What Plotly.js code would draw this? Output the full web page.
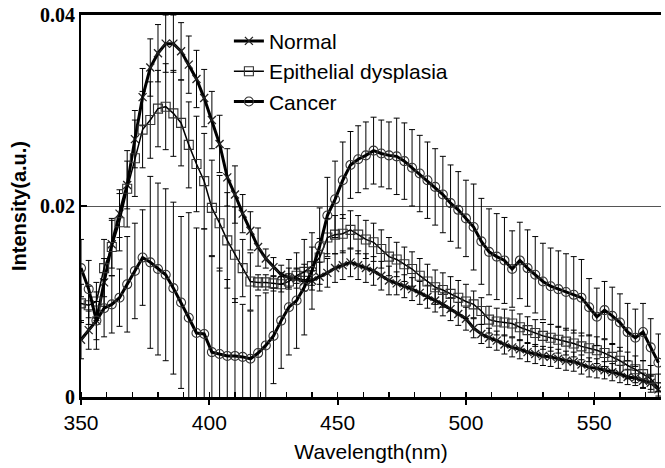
<!DOCTYPE html>
<html>
<head>
<meta charset="utf-8">
<script src="https://cdn.plot.ly/plotly-3.0.1.min.js"></script>
<style>html,body{margin:0;padding:0;background:#fff}#chart{width:665px;height:468px}</style>
</head>
<body>
<div id="chart"></div>
<script>
// Wavelength (nm), sampled every 3 nm
var wavelength = [350,353,356,359,362,365,368,371,374,377,380,383,386,389,392,395,398,401,404,407,410,413,416,419,422,425,428,431,434,437,440,443,446,449,452,455,458,461,464,467,470,473,476,479,482,485,488,491,494,497,500,503,506,509,512,515,518,521,524,527,530,533,536,539,542,545,548,551,554,557,560,563,566,569,572,575];

var normal = [0.0060,0.0070,0.0080,0.0120,0.0160,0.0192,0.0222,0.0270,0.0314,0.0345,0.0360,0.0370,0.0370,0.0362,0.0348,0.0333,0.0313,0.0290,0.0265,0.0230,0.0212,0.0192,0.0174,0.0157,0.0145,0.0136,0.0128,0.0125,0.0124,0.0121,0.0122,0.0126,0.0130,0.0135,0.0138,0.0141,0.0138,0.0135,0.0132,0.0127,0.0122,0.0119,0.0116,0.0113,0.0109,0.0105,0.0101,0.0097,0.0092,0.0087,0.0082,0.0072,0.0066,0.0062,0.0059,0.0055,0.0052,0.0050,0.0047,0.0045,0.0043,0.0042,0.0040,0.0038,0.0037,0.0034,0.0031,0.0030,0.0028,0.0026,0.0024,0.0021,0.0020,0.0017,0.0015,0.0008];
var normalErr = [0.002,0.002,0.002,0.0025,0.0025,0.0025,0.0025,0.003,0.003,0.003,0.003,0.003,0.003,0.003,0.003,0.003,0.003,0.003,0.003,0.003,0.003,0.002,0.002,0.002,0.001,0.001,0.001,0.001,0.001,0.001,0.001,0.0015,0.0015,0.0015,0.0015,0.0015,0.0015,0.0015,0.0015,0.0015,0.0015,0.0012,0.0012,0.0012,0.0012,0.0012,0.0012,0.0012,0.0012,0.0012,0.0012,0.001,0.001,0.001,0.001,0.001,0.001,0.001,0.001,0.001,0.001,0.001,0.001,0.001,0.001,0.001,0.001,0.001,0.0009,0.0009,0.0009,0.0008,0.0008,0.0008,0.0007,0.0007];

var dysplasia = [0.0098,0.0096,0.0100,0.0135,0.0157,0.0183,0.0218,0.0250,0.0280,0.0290,0.0302,0.0304,0.0297,0.0287,0.0264,0.0244,0.0226,0.0198,0.0182,0.0164,0.0149,0.0135,0.0121,0.0120,0.0120,0.0119,0.0118,0.0121,0.0127,0.0131,0.0137,0.0146,0.0167,0.0170,0.0171,0.0175,0.0170,0.0165,0.0162,0.0155,0.0147,0.0144,0.0139,0.0134,0.0127,0.0121,0.0115,0.0112,0.0108,0.0104,0.0100,0.0097,0.0090,0.0081,0.0079,0.0078,0.0077,0.0073,0.0070,0.0067,0.0064,0.0062,0.0060,0.0058,0.0056,0.0053,0.0051,0.0049,0.0046,0.0042,0.0038,0.0033,0.0029,0.0024,0.0019,0.0010];
var dysplasiaErr = [0.002,0.002,0.002,0.003,0.003,0.003,0.004,0.004,0.004,0.004,0.004,0.0045,0.0045,0.0045,0.0045,0.005,0.005,0.005,0.005,0.005,0.005,0.003,0.003,0.0008,0.0008,0.0008,0.0008,0.0008,0.0008,0.0008,0.002,0.002,0.002,0.002,0.002,0.002,0.002,0.002,0.002,0.002,0.002,0.0018,0.0018,0.0018,0.0018,0.0018,0.0018,0.0018,0.0018,0.0018,0.0018,0.0014,0.0014,0.0014,0.0014,0.0014,0.0014,0.0014,0.0014,0.0014,0.0014,0.0014,0.0014,0.0014,0.0014,0.0014,0.0014,0.0014,0.0014,0.0014,0.0014,0.0014,0.0014,0.0014,0.0014,0.0014];

var cancer = [0.0135,0.0113,0.0080,0.0093,0.0097,0.0104,0.0118,0.0132,0.0146,0.0141,0.0134,0.0128,0.0114,0.0099,0.0083,0.0067,0.0066,0.0047,0.0045,0.0043,0.0043,0.0042,0.0040,0.0046,0.0054,0.0064,0.0080,0.0094,0.0101,0.0115,0.0132,0.0158,0.0190,0.0207,0.0227,0.0243,0.0249,0.0253,0.0258,0.0255,0.0253,0.0252,0.0247,0.0240,0.0234,0.0227,0.0220,0.0212,0.0203,0.0196,0.0187,0.0178,0.0163,0.0152,0.0147,0.0143,0.0134,0.0143,0.0135,0.0128,0.0121,0.0116,0.0113,0.0110,0.0107,0.0104,0.0094,0.0084,0.0091,0.0085,0.0078,0.0068,0.0062,0.0068,0.0052,0.0036];
var cancerErr = [0.003,0.003,0.003,0.003,0.003,0.003,0.005,0.005,0.005,0.009,0.009,0.009,0.009,0.009,0.011,0.011,0.011,0.010,0.009,0.008,0.006,0.0055,0.005,0.006,0.0055,0.005,0.005,0.005,0.005,0.005,0.004,0.004,0.004,0.004,0.004,0.0035,0.0035,0.0035,0.0035,0.0035,0.0035,0.004,0.004,0.004,0.004,0.004,0.004,0.004,0.004,0.004,0.004,0.0045,0.0045,0.0045,0.0045,0.0045,0.004,0.004,0.004,0.004,0.004,0.004,0.004,0.004,0.004,0.004,0.003,0.003,0.003,0.003,0.003,0.003,0.003,0.003,0.003,0.003];

var seriesNames = ['Normal', 'Epithelial dysplasia', 'Cancer'];
var xTicks = [350, 400, 450, 500, 550];
var yTicks = [0, 0.02, 0.04];
var yTickText = ['0', '0.02', '0.04'];

function errBar(arr){
  return {type:'data', array:arr, visible:true, color:'#000', thickness:1, width:3};
}

var traces = [
  {x:wavelength, y:normal, name:seriesNames[0], type:'scatter', mode:'lines+markers',
   line:{color:'#000', width:3},
   marker:{symbol:'x-thin-open', size:8, color:'#222', line:{width:1.3, color:'#222'}},
   error_y:errBar(normalErr)},
  {x:wavelength, y:dysplasia, name:seriesNames[1], type:'scatter', mode:'lines+markers',
   line:{color:'#000', width:1.5},
   marker:{symbol:'square-open', size:9, color:'#333', line:{width:1.1, color:'#333'}},
   error_y:errBar(dysplasiaErr)},
  {x:wavelength, y:cancer, name:seriesNames[2], type:'scatter', mode:'lines+markers',
   line:{color:'#000', width:3},
   marker:{symbol:'circle-open', size:9, color:'#333', line:{width:1.1, color:'#333'}},
   error_y:errBar(cancerErr)}
];

var sans = 'Liberation Sans, Arial, sans-serif';
var layout = {
  width:665, height:468,
  margin:{l:81, r:4, t:15, b:71},
  paper_bgcolor:'#fff', plot_bgcolor:'#fff',
  showlegend:true,
  legend:{x:0.255, y:0.985, xanchor:'left', yanchor:'top', bgcolor:'rgba(0,0,0,0)',
          font:{family:sans, size:21, color:'#000'}},
  xaxis:{range:[350,576], tickvals:xTicks, ticktext:xTicks.map(String),
         ticks:'outside', ticklen:5, tickwidth:2, tickcolor:'#000',
         minor:{dtick:10, tick0:350, ticks:'inside', ticklen:5, tickwidth:1.5, tickcolor:'#000', showgrid:false},
         showline:true, linewidth:3, linecolor:'#000', mirror:true,
         showgrid:false, zeroline:false,
         tickfont:{family:sans, size:21, color:'#000'},
         title:{text:'Wavelength(nm)', font:{family:sans, size:21, color:'#000'}, standoff:12}},
  yaxis:{range:[0,0.04], tickvals:yTicks, ticktext:yTickText,
         ticks:'inside', ticklen:6, tickwidth:1.5, tickcolor:'#000',
         showline:true, linewidth:2, linecolor:'#000', mirror:false,
         showgrid:true, gridcolor:'#555', gridwidth:1, zeroline:false,
         tickfont:{family:'Liberation Serif, Times New Roman, serif', size:20, color:'#000', weight:'bold'},
         title:{text:'<b>Intensity(a.u.)</b>', font:{family:sans, size:20, color:'#000'}, standoff:8}}
};

Plotly.newPlot('chart', traces, layout, {displayModeBar:false, staticPlot:true});
</script>
</body>
</html>
